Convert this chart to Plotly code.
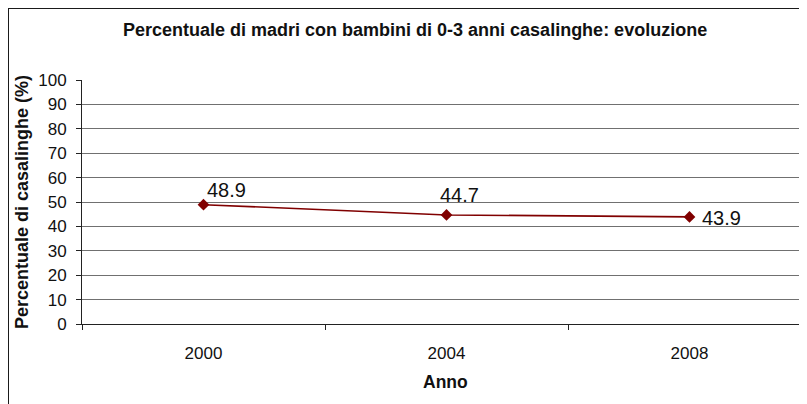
import plotly.graph_objects as go

years = ["2000", "2004", "2008"]
values = [48.9, 44.7, 43.9]
y_ticks = list(range(0, 101, 10))

title_text = "Percentuale di madri con bambini di 0-3 anni casalinghe: evoluzione"
x_title = "Anno"
y_title = "Percentuale di casalinghe (%)"

FONT = "Liberation Sans, Arial, sans-serif"
OFF = 8  # page body margin
W, H = 807 - OFF, 404 - OFF
L, R, T, B = 82 - OFF, 0, 80 - OFF, 80
pw = W - L - R
ph = H - T - B

# label placement per point (anchor, xshift, yshift)
lab_style = [("left", 1, 15), ("center", 13, 20), ("left", 10, -1)]

fig = go.Figure()
fig.add_trace(go.Scatter(
    x=years, y=values, mode="lines+markers",
    line=dict(color="#800000", width=1.6),
    marker=dict(symbol="diamond", size=9, color="#800000"),
    cliponaxis=False,
    hoverinfo="skip",
))


def px_x(px):
    return (px - OFF - L) / pw


def px_y(py):
    return (H - B - (py - OFF)) / ph


annotations = []
for i, (v, (anc, xs, ys)) in enumerate(zip(values, lab_style)):
    annotations.append(dict(
        text=f"{v:.1f}", x=i, y=v, xref="x", yref="y", showarrow=False,
        xanchor=anc, yanchor="middle", xshift=xs, yshift=ys,
        font=dict(family=FONT, size=20, color="#111111")))

annotations += [
    dict(text=f"<b>{title_text}</b>", xref="paper", yref="paper",
         x=px_x(415), y=px_y(30), showarrow=False,
         xanchor="center", yanchor="middle",
         font=dict(family=FONT, size=18, color="#111111")),
    dict(text=f"<b>{x_title}</b>", xref="paper", yref="paper",
         x=px_x(446), y=px_y(382), showarrow=False,
         xanchor="center", yanchor="middle",
         font=dict(family=FONT, size=17.5, color="#111111")),
    dict(text=f"<b>{y_title}</b>", xref="paper", yref="paper",
         x=px_x(22), y=px_y(202), showarrow=False, textangle=-90,
         xanchor="center", yanchor="middle",
         font=dict(family=FONT, size=18, color="#111111")),
]

fig.update_layout(
    width=W, height=H,
    margin=dict(l=L, r=R, t=T, b=B),
    paper_bgcolor="white", plot_bgcolor="white",
    showlegend=False,
    font=dict(family=FONT, color="#111111"),
    xaxis=dict(
        type="category", range=[-0.5, -0.5 + pw / 243.0],
        showgrid=False, showline=True, linecolor="#222222", linewidth=1,
        ticks="outside", ticklen=5, tickcolor="#222222", tickson="boundaries",
        tickfont=dict(family=FONT, size=17, color="#111111"),
        ticklabelstandoff=14,
    ),
    yaxis=dict(
        range=[0, 100], tickvals=y_ticks,
        showgrid=True, gridcolor="#707070", gridwidth=1,
        showline=True, linecolor="#222222", linewidth=1,
        ticks="outside", ticklen=5, tickcolor="#222222",
        tickfont=dict(family=FONT, size=17, color="#111111"),
        ticklabelstandoff=6, zeroline=False,
    ),
    annotations=annotations,
    shapes=[
        dict(type="rect", xref="paper", yref="paper",
             x0=px_x(8), x1=px_x(830), y0=px_y(430), y1=px_y(8),
             line=dict(color="#1a1a1a", width=2), fillcolor="rgba(0,0,0,0)",
             layer="above"),
    ],
)

fig.write_html("out.html")
